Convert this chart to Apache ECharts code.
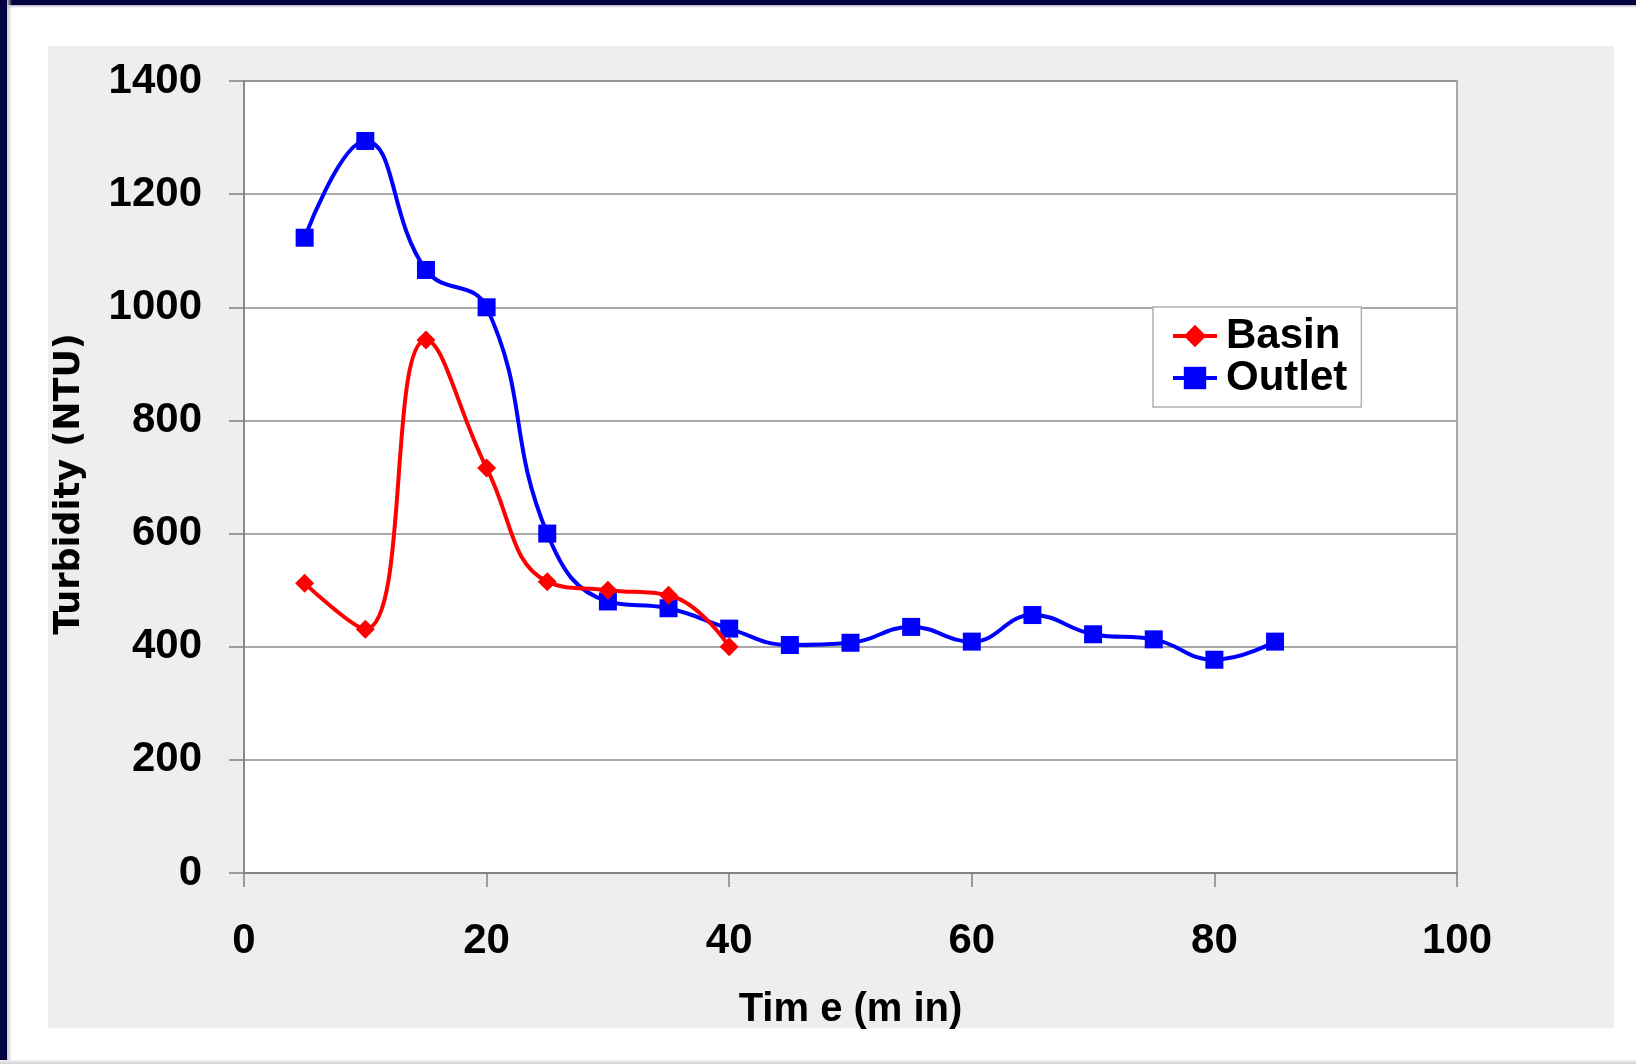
<!DOCTYPE html>
<html>
<head>
<meta charset="utf-8">
<title>Turbidity over time</title>
<script src="https://cdn.jsdelivr.net/npm/echarts@6/dist/echarts.min.js"></script>
<style>
  html, body { margin: 0; padding: 0; background: #ffffff; width: 1636px; height: 1064px; overflow: hidden; }
  .frame-top { position: absolute; left: 0; top: 0; width: 1636px; height: 5px; background: #03033f; }
  .frame-top-shade { position: absolute; left: 0; top: 5px; width: 1636px; height: 3px; background: linear-gradient(#b8b8c8, rgba(255,255,255,0)); }
  .frame-left { position: absolute; left: 0; top: 0; width: 7px; height: 1064px; background: #03033f; }
  .frame-left-shade { position: absolute; left: 7px; top: 0; width: 5px; height: 1064px; background: linear-gradient(90deg, #c8c8cc, rgba(255,255,255,0)); }
  .frame-bottom { position: absolute; left: 0; top: 1060px; width: 1636px; height: 4px; background: linear-gradient(#f4f4f4, #cfcfcf); }
  .panel { position: absolute; left: 48px; top: 46px; width: 1566px; height: 982px; background: #eeeeee; }
  #chart { position: absolute; left: 0; top: 0; width: 1636px; height: 1064px; }
</style>
</head>
<body>
<div class="frame-top"></div>
<div class="frame-top-shade"></div>
<div class="frame-left"></div>
<div class="frame-left-shade"></div>
<div class="frame-bottom"></div>
<div class="panel"></div>
<div id="chart"></div>
<script>
// Sampling times (minutes)
const basinTime = [5, 10, 15, 20, 25, 30, 35, 40];
const outletTime = [5, 10, 15, 20, 25, 30, 35, 40, 45, 50, 55, 60, 65, 70, 75, 80, 85];

// Turbidity readings (NTU)
const basinNTU = [512, 431, 942, 716, 515, 500, 491, 400];
const outletNTU = [1123, 1294, 1066, 1000, 600, 480, 468, 432, 403, 407, 435, 409, 456, 422, 413, 377, 409];

// Axis ranges and steps
const xRange = [0, 100];
const xStep = 20;
const yRange = [0, 1400];
const yStep = 200;

const seriesNames = ['Basin', 'Outlet'];
const axisTitles = { x: 'Tim e (m in)', y: 'Turbidity (NTU)' };

const pairs = (xs, ys) => xs.map((x, i) => [x, ys[i]]);

const labelFont = {
  color: '#000000',
  fontFamily: '"Liberation Sans", Arial, sans-serif',
  fontWeight: 'bold',
  fontSize: 42
};

const chart = echarts.init(document.getElementById('chart'), null, { renderer: 'canvas' });

chart.setOption({
  backgroundColor: 'transparent',
  animation: false,
  grid: {
    left: 244, top: 81, right: 179, bottom: 191,
    show: true,
    backgroundColor: '#ffffff',
    borderColor: '#a8a8a8',
    borderWidth: 2
  },
  legend: {
    orient: 'vertical',
    left: 1153,
    top: 307,
    data: seriesNames,
    backgroundColor: '#ffffff',
    borderColor: '#b0b0b0',
    borderWidth: 1.5,
    borderRadius: 0,
    padding: [8, 14, 8, 18],
    itemGap: 0,
    itemWidth: 44,
    itemHeight: 28,
    lineStyle: { width: 4 },
    textStyle: Object.assign({}, labelFont, { padding: [0, 0, 0, 4], lineHeight: 42 })
  },
  xAxis: {
    type: 'value',
    min: xRange[0], max: xRange[1], interval: xStep,
    name: axisTitles.x,
    nameLocation: 'middle',
    nameGap: 117,
    nameTextStyle: Object.assign({}, labelFont, { fontSize: 40 }),
    axisLine: { show: true, lineStyle: { color: '#808080', width: 1.5 } },
    axisTick: { show: true, inside: false, length: 14, lineStyle: { color: '#808080', width: 1.5 } },
    axisLabel: Object.assign({ margin: 47, formatter: v => String(v) }, labelFont),
    splitLine: { show: false }
  },
  yAxis: {
    type: 'value',
    min: yRange[0], max: yRange[1], interval: yStep,
    name: axisTitles.y,
    nameLocation: 'middle',
    nameGap: 157,
    nameRotate: 90,
    nameTextStyle: {
      color: '#000000',
      fontFamily: '"DejaVu Sans", sans-serif',
      fontWeight: 'bold',
      fontSize: 35,
      padding: [0, 14, 0, 0]
    },
    axisLine: { show: true, lineStyle: { color: '#808080', width: 1.5 } },
    axisTick: { show: true, inside: false, length: 15, lineStyle: { color: '#808080', width: 1.5 } },
    axisLabel: Object.assign({ margin: 42, formatter: v => String(v) }, labelFont),
    splitLine: { show: true, lineStyle: { color: '#8c8c8c', width: 1.5 } }
  },
  series: [
    {
      name: seriesNames[0],
      type: 'line',
      data: pairs(basinTime, basinNTU),
      smooth: 0.45,
      symbol: 'diamond',
      symbolSize: 19,
      color: '#ff0000',
      lineStyle: { color: '#ff0000', width: 4 },
      itemStyle: { color: '#ff0000' },
      z: 3
    },
    {
      name: seriesNames[1],
      type: 'line',
      data: pairs(outletTime, outletNTU),
      smooth: 0.45,
      symbol: 'rect',
      symbolSize: 18,
      color: '#0000ff',
      lineStyle: { color: '#0000ff', width: 4 },
      itemStyle: { color: '#0000ff' },
      z: 2
    }
  ]
});
</script>
</body>
</html>
